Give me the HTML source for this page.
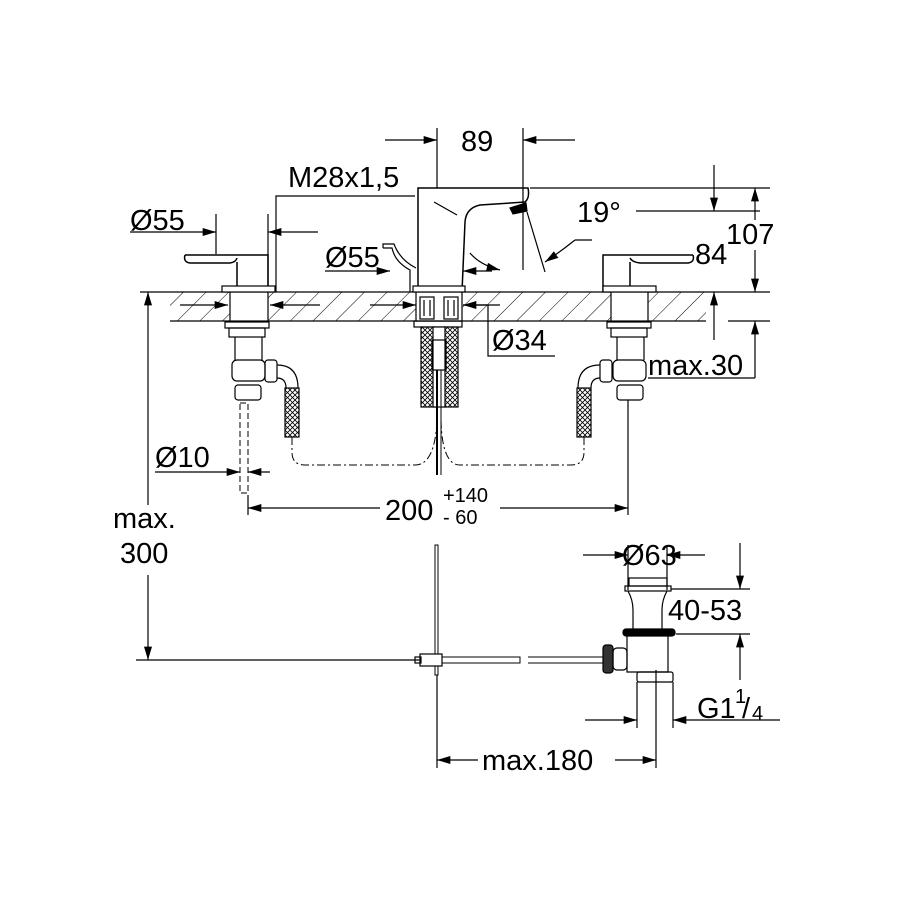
<!DOCTYPE html>
<html><head><meta charset="utf-8"><style>
html,body{margin:0;padding:0;background:#fff;width:900px;height:900px;overflow:hidden}
svg{display:block}
text{font-family:"Liberation Sans",sans-serif;font-size:29px;fill:#000}
</style></head><body>
<svg width="900" height="900" viewBox="0 0 900 900" xmlns="http://www.w3.org/2000/svg">
<defs>
<marker id="a" viewBox="0 0 10 6" refX="10" refY="3" markerWidth="18" markerHeight="8" markerUnits="userSpaceOnUse" orient="auto"><path d="M0,0L10,3L0,6z" fill="#000"/></marker>
<pattern id="h" width="16" height="16" patternUnits="userSpaceOnUse" patternTransform="rotate(45)"><line x1="0" y1="0" x2="0" y2="16" stroke="#000" stroke-width="1"/></pattern>
<pattern id="x" width="5" height="5" patternUnits="userSpaceOnUse"><path d="M0,0L5,5M5,0L0,5" stroke="#000" stroke-width="0.8"/></pattern>
</defs>
<g stroke="#000" fill="none" stroke-width="1.2">
<rect x="170" y="292" width="536" height="29" fill="url(#h)" stroke="none"/>
<line x1="140" y1="292" x2="770" y2="292"/>
<line x1="170" y1="321" x2="706" y2="321"/>
<line x1="728" y1="321" x2="770" y2="321"/>
<rect x="230" y="292" width="38" height="29" fill="#fff"/>
<rect x="416" y="292" width="46" height="29" fill="#fff"/>
<rect x="611" y="292" width="37" height="29" fill="#fff"/>
<rect x="420" y="297" width="14" height="22" fill="#fff"/><rect x="444" y="297" width="14" height="22" fill="#fff"/>
<line x1="424" y1="300" x2="424" y2="316"/><line x1="430" y1="300" x2="430" y2="316"/>
<line x1="448" y1="300" x2="448" y2="316"/><line x1="454" y1="300" x2="454" y2="316"/>
<path d="M185,255 L268,255 L268,292 M237,262 L237,292 M185,255 Q183,262 190,263 L230,263 Q236,262 237,258" stroke-width="1.5"/>
<rect x="222" y="286" width="53" height="6" fill="#fff"/>
<path d="M693,255 L603,255 L603,292 M630,262 L630,292 M693,255 Q695,262 688,263 L640,263 Q632,262 630,258" stroke-width="1.5"/>
<rect x="603" y="286" width="53" height="6" fill="#fff"/>
<path d="M418,292 L418,188 L528,188 Q530,198 525,202 L480,205 Q466,208 465,222 L462,292" stroke-width="1.5"/>
<path d="M383,248 L392,248 Q395,262 410,270 L410,292" />
<path d="M383,248 L383,244 L394,244 Q400,260 416,268"/>
<path d="M434,202 L457,215" />
<path d="M510,208 L526,203 L527,211 L513,214z" fill="#000"/>
<rect x="413" y="286" width="52" height="6" fill="#fff"/>
<rect x="225" y="322" width="44" height="6"/>
<rect x="229" y="328" width="36" height="9"/>
<path d="M235,337 L235,360 M262,337 L262,360"/>
<rect x="232" y="360" width="33" height="21" rx="5"/>
<rect x="235" y="385" width="26" height="15" rx="3"/>
<rect x="265" y="360" width="12" height="22" rx="3"/>
<path d="M277,365 Q298,365 298,388 M277,378 Q286,378 286,388" />
<rect x="285" y="388" width="14" height="49" fill="url(#x)"/>
<rect x="240" y="403" width="8" height="90" stroke-dasharray="6,3" stroke-width="1"/>
<rect x="607" y="322" width="44" height="6"/>
<rect x="611" y="328" width="36" height="9"/>
<path d="M617,337 L617,360 M644,337 L644,360"/>
<rect x="613" y="360" width="33" height="21" rx="5"/>
<rect x="617" y="385" width="26" height="15" rx="3"/>
<rect x="600" y="360" width="12" height="22" rx="3"/>
<path d="M600,365 Q578,365 578,388 M600,378 Q591,378 591,388"/>
<rect x="577" y="388" width="14" height="49" fill="url(#x)"/>
<rect x="414" y="321" width="48" height="6"/>
<rect x="421" y="327" width="14" height="80" fill="url(#x)"/>
<rect x="444" y="327" width="14" height="80" fill="url(#x)"/>
<rect x="433" y="327" width="12" height="80" fill="#fff"/>
<rect x="432" y="340" width="14" height="30"/>
<line x1="437" y1="370" x2="437" y2="475" stroke-width="2"/>
<line x1="441" y1="370" x2="441" y2="475" stroke-width="1"/>
<path d="M292,437 L292,452 Q292,465 305,465 L415,465 Q435,465 437,420" stroke-dasharray="8,3,2,3" stroke-width="1"/>
<path d="M584,437 L584,452 Q584,465 571,465 L460,465 Q442,465 441,420" stroke-dasharray="8,3,2,3" stroke-width="1"/>
<line x1="437" y1="128" x2="437" y2="188"/>
<line x1="523" y1="128" x2="523" y2="270"/>
<line x1="385" y1="140" x2="437" y2="140" marker-end="url(#a)"/>
<line x1="575" y1="140" x2="523" y2="140" marker-end="url(#a)"/>
<path d="M276,292 L276,196 L415,196"/>
<line x1="268" y1="214" x2="268" y2="286"/>
<line x1="318" y1="232" x2="268" y2="232" marker-end="url(#a)"/>
<line x1="216" y1="214" x2="216" y2="254"/>
<line x1="130" y1="232" x2="216" y2="232" marker-end="url(#a)"/>
<line x1="180" y1="305" x2="228" y2="305" marker-end="url(#a)"/>
<line x1="320" y1="305" x2="270" y2="305" marker-end="url(#a)"/>
<line x1="325" y1="271" x2="390" y2="271" marker-end="url(#a)"/>
<line x1="492" y1="271" x2="463" y2="271" marker-end="url(#a)"/>
<line x1="370" y1="305" x2="416" y2="305" marker-end="url(#a)"/>
<line x1="500" y1="305" x2="463" y2="305" marker-end="url(#a)"/>
<path d="M463,305 L488,305 L488,356 L555,356"/>
<line x1="527" y1="212" x2="545" y2="272"/>
<path d="M575,240 L592,240" />
<path d="M575,240 Q560,252 545,262" marker-end="url(#a)"/>
<path d="M470,253 Q480,265 500,270" marker-end="url(#a)"/>
<line x1="530" y1="188" x2="770" y2="188"/>
<line x1="636" y1="211" x2="760" y2="211"/>
<line x1="714" y1="165" x2="714" y2="211" marker-end="url(#a)"/>
<line x1="755" y1="220" x2="755" y2="188" marker-end="url(#a)"/>
<line x1="755" y1="250" x2="755" y2="292" marker-end="url(#a)"/>
<line x1="714" y1="340" x2="714" y2="292" marker-end="url(#a)"/>
<line x1="755" y1="378" x2="755" y2="321" marker-end="url(#a)"/>
<line x1="648" y1="378" x2="755" y2="378"/>
<line x1="155" y1="472" x2="240" y2="472" marker-end="url(#a)"/>
<line x1="270" y1="472" x2="248" y2="472" marker-end="url(#a)"/>
<line x1="248" y1="495" x2="248" y2="515"/>
<line x1="628" y1="400" x2="628" y2="515"/>
<line x1="380" y1="508" x2="248" y2="508" marker-end="url(#a)"/>
<line x1="500" y1="508" x2="628" y2="508" marker-end="url(#a)"/>
<line x1="148" y1="505" x2="148" y2="292" marker-end="url(#a)"/>
<line x1="148" y1="575" x2="148" y2="660" marker-end="url(#a)"/>
<line x1="136" y1="660" x2="420" y2="660"/>
<rect x="435" y="545" width="3" height="130" stroke-width="1"/>
<path d="M415,657 L520,657 L520,663 L415,663" stroke-width="1"/>
<path d="M528,657 L605,657 M528,663 L605,663" stroke-width="1"/>
<rect x="420" y="654" width="22" height="12" fill="#fff"/>
<rect x="415" y="657" width="6" height="6"/>
<rect x="603" y="645" width="10" height="28" rx="3" fill="#333"/>
<rect x="613" y="648" width="14" height="22" rx="4"/>
<rect x="629" y="578" width="38" height="8"/>
<rect x="625" y="586" width="46" height="5"/>
<path d="M628,591 Q633,600 633,610 L633,630 M667,591 Q662,600 662,610 L662,630"/>
<rect x="623" y="629" width="52" height="7" rx="3" fill="#000"/>
<path d="M627,636 L627,672 L668,672 L668,636"/>
<rect x="637" y="672" width="36" height="10" rx="2"/>
<line x1="628" y1="545" x2="628" y2="590"/>
<line x1="667" y1="545" x2="667" y2="590"/>
<line x1="583" y1="555" x2="628" y2="555" marker-end="url(#a)"/>
<line x1="705" y1="555" x2="667" y2="555" marker-end="url(#a)"/>
<line x1="671" y1="589" x2="750" y2="589"/>
<line x1="676" y1="634" x2="750" y2="634"/>
<line x1="740" y1="543" x2="740" y2="589" marker-end="url(#a)"/>
<line x1="740" y1="680" x2="740" y2="634" marker-end="url(#a)"/>
<line x1="637" y1="682" x2="637" y2="728"/>
<line x1="673" y1="682" x2="673" y2="728"/>
<line x1="585" y1="720" x2="637" y2="720" marker-end="url(#a)"/>
<line x1="780" y1="720" x2="673" y2="720" marker-end="url(#a)"/>
<line x1="656" y1="670" x2="656" y2="768"/>
<line x1="437" y1="675" x2="437" y2="768"/>
<line x1="478" y1="760" x2="437" y2="760" marker-end="url(#a)"/>
<line x1="615" y1="760" x2="656" y2="760" marker-end="url(#a)"/>
</g>
<text x="461" y="151">89</text>
<text x="288" y="187">M28x1,5</text>
<text x="130" y="230">Ø55</text>
<text x="325" y="267">Ø55</text>
<text x="577" y="222">19°</text>
<text x="695" y="264">84</text>
<text x="726" y="244">107</text>
<text x="492" y="350">Ø34</text>
<text x="648" y="375">max.30</text>
<text x="155" y="467">Ø10</text>
<text x="385" y="520">200</text>
<text x="443" y="502" style="font-size:20px">+140</text>
<text x="443" y="524" style="font-size:20px">-  60</text>
<text x="113" y="528">max.</text>
<text x="120" y="563">300</text>
<text x="622" y="565">Ø63</text>
<text x="668" y="620">40-53</text>
<text x="697" y="718">G1</text>
<text x="735" y="703" style="font-size:20px">1</text>
<text x="742" y="718">/</text>
<text x="752" y="720" style="font-size:20px">4</text>
<text x="482" y="770">max.180</text>
</svg>
</body></html>
